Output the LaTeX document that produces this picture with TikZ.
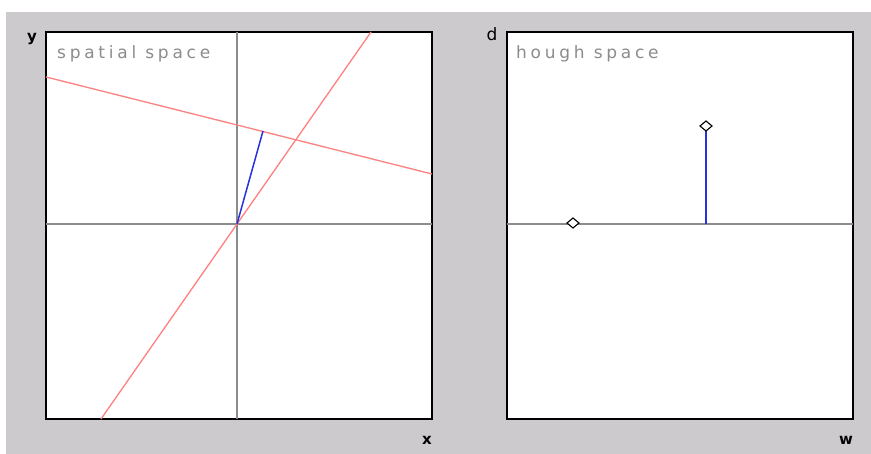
\documentclass[tikz,border=0pt]{standalone}
\usepackage{fontspec}
\setmainfont{DejaVu Sans}
\newfontfamily\lblfont[LetterSpace=22]{DejaVu Sans}
\definecolor{bggrey}{RGB}{204,202,205}
\definecolor{pinkred}{RGB}{255,128,128}
\definecolor{lineblue}{RGB}{40,50,220}
\begin{document}
\begin{tikzpicture}[x=1pt,y=-1pt,
  panel/.style={draw=black,line width=1.6pt,fill=white},
  axisline/.style={draw=black!45,line width=1.3pt},
  redline/.style={draw=pinkred,line width=1.3pt},
  blueline/.style={draw=lineblue,line width=1.5pt},
  title/.style={anchor=base west,text=black!45,inner sep=0pt,font=\lblfont\fontsize{17}{19}\selectfont},
  axlabel/.style={anchor=base,inner sep=0pt,font=\bfseries\fontsize{15}{16}\selectfont}]
\useasboundingbox (0,0) rectangle (871,454);
\fill[white] (0,0) rectangle (871,454);
\fill[bggrey] (6,12) rectangle (871,454);
% left panel
\draw[panel] (46,32) rectangle (432,419);
\coordinate (lx0) at (46,224); \coordinate (lx1) at (432,224);
\coordinate (ly0) at (237,32); \coordinate (ly1) at (237,419);
\draw[axisline] (lx0) -- (lx1);
\draw[axisline] (ly0) -- (ly1);
\coordinate (o) at (237,224);
\coordinate (a0) at (46,77); \coordinate (a1) at (432,174);
\coordinate (b0) at (101,419); \coordinate (b1) at (371,32);
\draw[redline] (a0) -- (a1);
\draw[redline] (b0) -- (b1);
\coordinate (foot) at (263,131);
\draw[blueline] (o) -- (foot);
\node[title] (t1) at (57,59) {spatial space};
\node[axlabel] (ylab) at (32,42) {y};
\node[axlabel] (xlab) at (427,445) {x};
% right panel
\draw[panel] (507,32) rectangle (853,419);
\coordinate (hx0) at (507,224); \coordinate (hx1) at (853,224);
\draw[axisline] (hx0) -- (hx1);
\coordinate (p1) at (573,223);
\coordinate (p2) at (706,126);
\coordinate (p2b) at (706,224);
\draw[blueline] (p2b) -- (p2);
\draw[black,line width=1.1pt,fill=white] (p1) ++(-6,0) -- ++(6,-5) -- ++(6,5) -- ++(-6,5) -- cycle;
\draw[black,line width=1.1pt,fill=white] (p2) ++(-6,0) -- ++(6,-5) -- ++(6,5) -- ++(-6,5) -- cycle;
\node[title] (t2) at (516,59) {hough space};
\node[axlabel,font=\fontsize{17}{18}\selectfont] (dlab) at (492,41) {d};
\node[axlabel] (wlab) at (846,445) {w};
\end{tikzpicture}
\end{document}
